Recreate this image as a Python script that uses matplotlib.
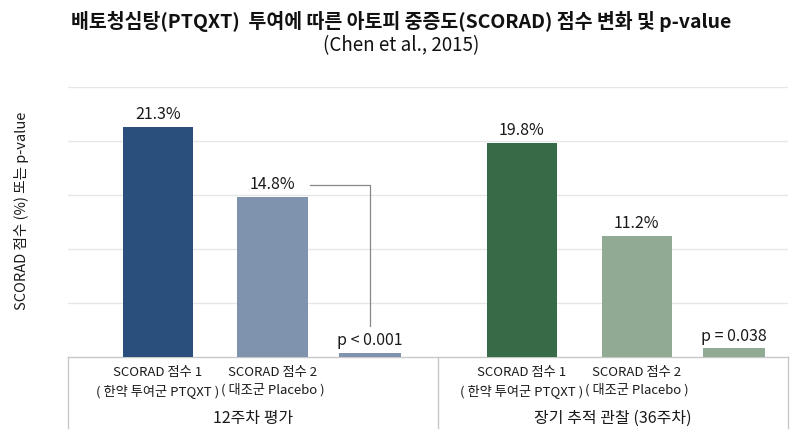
import numpy as np
import matplotlib
matplotlib.use("Agg")
import matplotlib.pyplot as plt

plt.rcParams['font.family'] = ['Noto Sans CJK KR', 'DejaVu Sans']

# data
groups = ["12주차 평가", "장기 추적 관찰 (36주차)"]
bar_names = ["SCORAD 점수 1\n( 한약 투여군 PTQXT )", "SCORAD 점수 2\n( 대조군 Placebo )", ""]
week12_values = [21.3, 14.8, 0.35]
week36_values = [19.8, 11.2, 0.8]
week12_labels = ["21.3%", "14.8%", "p < 0.001"]
week36_labels = ["19.8%", "11.2%", "p = 0.038"]
week12_colors = ["#2A4F7C", "#7F93AE", "#7F93AE"]
week36_colors = ["#376B47", "#91AA94", "#91AA94"]

fig = plt.figure(figsize=(8, 4.36), dpi=100)
ax = fig.add_axes([68/800, 79/436, 720/800, 270/436])

offsets = np.array([0.0, 1.145, 2.12])
widths = [0.7, 0.7, 0.62]
starts = [0.9, 4.54]

for g, (vals, labs, cols) in enumerate([(week12_values, week12_labels, week12_colors),
                                        (week36_values, week36_labels, week36_colors)]):
    xs = starts[g] + offsets
    ax.bar(xs, vals, width=widths, color=cols, zorder=3)
    for x, v, lab in zip(xs, vals, labs):
        ax.text(x, v + 0.35, lab, ha="center", va="bottom", fontsize=11.5,
                color="#1a1a1a")
    for x, name in zip(xs, bar_names):
        ax.text(x, -0.85, name, ha="center", va="top", fontsize=9.5,
                color="#1a1a1a", linespacing=1.4)

# bracket from the placebo label to the p-value
x_br = starts[0] + offsets[2]
ax.plot([starts[0] + offsets[1] + 0.37, x_br, x_br],
        [week12_values[1] + 1.1, week12_values[1] + 1.1, 2.9],
        color="#888888", lw=0.9, zorder=2)

# group labels
ax.text((0.0 + 3.7) / 2, -5.7, groups[0], ha="center", va="center", fontsize=11.5,
        color="#1a1a1a")
ax.text((3.7 + 7.2) / 2, -5.7, groups[1], ha="center", va="center", fontsize=11.5,
        color="#1a1a1a")

# table frame under axis
box = dict(color="#C8C8C8", lw=1, clip_on=False)
ax.plot([0, 7.2], [0, 0], **box)
for xv in [0.0, 3.7, 7.2]:
    ax.plot([xv, xv], [0, -6.6], **box)

ax.set_xlim(0, 7.2)
ax.set_ylim(0, 25)
ax.set_yticks([5, 10, 15, 20, 25])
ax.set_yticklabels([])
ax.set_xticks([])
ax.tick_params(length=0)
ax.grid(axis="y", color="#E6E6E6", lw=1, zorder=0)
for s in ax.spines.values():
    s.set_visible(False)

fig.text(22/800, 1 - 211/436, "SCORAD 점수 (%) 또는 p-value", rotation=90,
         ha="center", va="center", fontsize=10.5, color="#1a1a1a")
fig.text(401/800, 1 - 22/436, "배토청심탕(PTQXT)  투여에 따른 아토피 중증도(SCORAD) 점수 변화 및 p-value",
         ha="center", va="center", fontsize=14, fontweight="bold", color="#111111")
fig.text(401/800, 1 - 46/436, "(Chen et al., 2015)",
         ha="center", va="center", fontsize=13.5, color="#111111")

fig.savefig("out.png", dpi=100)
